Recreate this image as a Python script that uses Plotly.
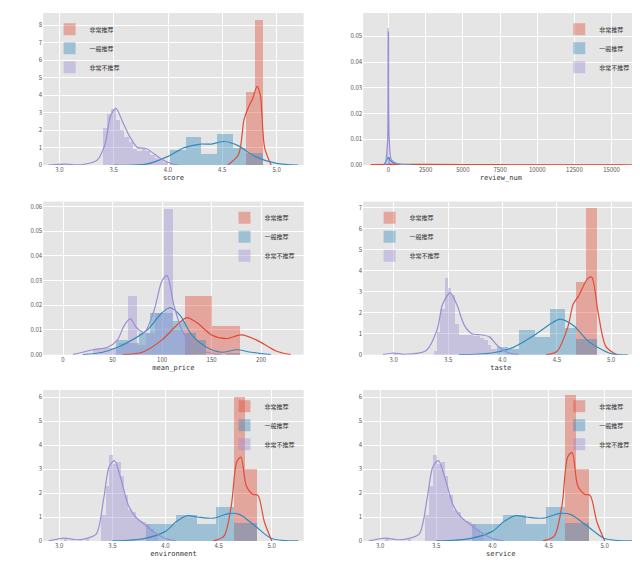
import plotly.graph_objects as go

RED, BLUE, PURPLE = "#E24A33", "#348ABD", "#988ED5"
names = ["非常推荐", "一般推荐", "非常不推荐"]

# ---- score
score_red_edges = [4.72, 4.80, 4.88]
score_red_h = [4.2, 8.3]
score_blue_edges = [4.02, 4.17, 4.31, 4.45, 4.60, 4.72, 4.88]
score_blue_h = [0.85, 1.6, 0.65, 1.8, 1.0, 0.7]
score_pur_edges = [3.00, 3.04, 3.40, 3.44, 3.48, 3.52, 3.56, 3.60, 3.64, 3.68, 3.72, 3.76, 3.80, 3.84, 3.88, 3.92, 3.96, 4.0]
score_pur_h = [0.05, 0, 2.1, 2.9, 3.2, 2.6, 2.0, 1.6, 1.3, 0.9, 0.8, 0.9, 0.8, 0.6, 0.4, 0.3, 0.2]
score_red_kx = [4.55, 4.65, 4.70, 4.74, 4.78, 4.82, 4.85, 4.89, 4.95]
score_red_ky = [0, 0.6, 2.6, 3.3, 3.8, 4.5, 4.0, 1.0, 0]
score_blue_kx = [3.5, 3.8, 4.0, 4.15, 4.3, 4.4, 4.52, 4.65, 4.8, 5.0, 5.2]
score_blue_ky = [0, 0.05, 0.5, 1.0, 1.2, 1.2, 1.35, 1.1, 0.5, 0.1, 0]
score_pur_kx = [2.9, 3.05, 3.2, 3.35, 3.42, 3.47, 3.52, 3.58, 3.65, 3.72, 3.8, 3.88, 3.95, 4.05, 4.1]
score_pur_ky = [0, 0.05, 0.02, 0.3, 1.2, 2.8, 3.25, 2.5, 1.6, 1.0, 0.95, 0.6, 0.3, 0.05, 0]

# ---- review_num
rev_red_edges = [-40, 16000]
rev_red_h = [0.0001]
rev_blue_edges = [-40, 120, 400]
rev_blue_h = [0.003, 0.0008]
rev_pur_edges = [-40, 40, 200]
rev_pur_h = [0.053, 0.002]
rev_red_kx = [-1200, 0, 5000, 10000, 16500]
rev_red_ky = [0.0002, 0.0003, 0.0002, 0.0001, 0.0001]
rev_blue_kx = [-300, 0, 100, 300, 800, 2000]
rev_blue_ky = [0, 0.003, 0.002, 0.001, 0.0003, 0]
rev_pur_kx = [-200, -50, 0, 50, 200, 600, 1500]
rev_pur_ky = [0, 0.01, 0.052, 0.01, 0.002, 0.0005, 0]

# ---- mean_price
mp_red_edges = [123, 151, 179]
mp_red_h = [0.024, 0.012]
mp_blue_edges = [54, 66, 77, 88, 100, 111, 123, 134, 145, 165, 179]
mp_blue_h = [0.006, 0.005, 0.009, 0.017, 0.017, 0.014, 0.009, 0.006, 0, 0.001]
mp_pur_edges = [30, 40, 48, 57, 66, 75, 84, 93, 102, 111, 120, 129]
mp_pur_h = [0.0025, 0.003, 0.003, 0.005, 0.024, 0.004, 0.009, 0.017, 0.059, 0.010, 0.009]
mp_red_kx = [60, 80, 100, 115, 125, 135, 150, 165, 180, 195, 215, 230]
mp_red_ky = [0, 0.001, 0.006, 0.012, 0.015, 0.013, 0.008, 0.0065, 0.008, 0.006, 0.0015, 0]
mp_blue_kx = [20, 40, 55, 70, 85, 100, 108, 118, 130, 145, 160, 175, 190, 210]
mp_blue_ky = [0, 0.001, 0.003, 0.006, 0.010, 0.017, 0.019, 0.016, 0.008, 0.003, 0.001, 0.002, 0.001, 0]
mp_pur_kx = [10, 30, 45, 55, 62, 68, 74, 82, 92, 100, 105, 112, 120, 130, 145, 160]
mp_pur_ky = [0, 0.002, 0.003, 0.006, 0.012, 0.0145, 0.011, 0.009, 0.018, 0.030, 0.032, 0.020, 0.010, 0.004, 0.001, 0]

# ---- taste
ta_red_edges = [4.68, 4.77, 4.87]
ta_red_h = [3.5, 7.0]
ta_blue_edges = [3.95, 4.05, 4.15, 4.30, 4.44, 4.58, 4.68, 4.87]
ta_blue_h = [0.4, 0.3, 1.2, 0.85, 2.2, 1.3, 0.75]
ta_pur_edges = [3.00, 3.03, 3.37, 3.40, 3.43, 3.47, 3.50, 3.53, 3.57, 3.60, 3.63, 3.67, 3.70, 3.73, 3.77, 3.80, 3.83, 3.87, 3.90, 3.95]
ta_pur_h = [0.08, 0, 0.2, 1.1, 2.2, 3.7, 3.2, 2.85, 1.5, 0.95, 0.95, 0.95, 0.95, 0.9, 0.9, 0.8, 0.7, 0.5, 0.3]
ta_red_kx = [4.4, 4.5, 4.6, 4.65, 4.7, 4.78, 4.82, 4.88, 4.95, 5.05]
ta_red_ky = [0, 0.15, 1.3, 2.4, 2.8, 3.6, 3.7, 2.0, 0.4, 0]
ta_blue_kx = [3.6, 3.9, 4.1, 4.3, 4.45, 4.53, 4.65, 4.8, 5.0, 5.15]
ta_blue_ky = [0, 0.08, 0.35, 0.95, 1.5, 1.7, 1.4, 0.6, 0.05, 0]
ta_pur_kx = [2.9, 3.0, 3.1, 3.3, 3.4, 3.45, 3.52, 3.58, 3.65, 3.72, 3.8, 3.88, 3.95, 4.05, 4.15]
ta_pur_ky = [0, 0.08, 0.02, 0.2, 1.2, 2.4, 2.95, 2.4, 1.4, 1.0, 0.95, 0.85, 0.45, 0.1, 0]

# ---- environment
en_red_edges = [4.65, 4.75, 4.86]
en_red_h = [6.0, 3.0]
en_blue_edges = [3.82, 4.10, 4.30, 4.48, 4.65, 4.86]
en_blue_h = [0.7, 1.1, 0.7, 1.4, 0.75]
en_pur_edges = [3.05, 3.08, 3.25, 3.28, 3.40, 3.44, 3.47, 3.51, 3.54, 3.58, 3.61, 3.65, 3.68, 3.72, 3.75, 3.79, 3.82, 3.86, 3.89, 3.93]
en_pur_h = [0.1, 0, 0.1, 0, 1.1, 2.3, 3.6, 3.2, 3.3, 2.7, 1.9, 1.3, 1.2, 0.9, 0.85, 0.8, 0.7, 0.5, 0.3]
en_red_kx = [4.45, 4.55, 4.62, 4.67, 4.71, 4.76, 4.82, 4.87, 4.93, 5.0]
en_red_ky = [0, 0.2, 1.5, 3.3, 3.5, 2.3, 1.95, 1.9, 0.8, 0]
en_blue_kx = [3.5, 3.8, 4.0, 4.1, 4.2, 4.3, 4.45, 4.6, 4.7, 4.85, 5.0, 5.25]
en_blue_ky = [0, 0.1, 0.4, 0.8, 1.05, 1.0, 0.95, 1.15, 1.1, 0.6, 0.1, 0]
en_pur_kx = [2.9, 3.05, 3.15, 3.25, 3.35, 3.42, 3.47, 3.52, 3.58, 3.65, 3.72, 3.8, 3.9, 4.0, 4.1]
en_pur_ky = [0, 0.12, 0.05, 0.1, 0.3, 1.8, 3.1, 3.35, 2.6, 1.5, 1.0, 0.7, 0.35, 0.1, 0]

# ---- service (looks the same as environment)
sv_red_edges = [4.65, 4.75, 4.86]
sv_red_h = [6.1, 3.0]
sv_blue_edges = [3.82, 4.10, 4.30, 4.48, 4.65, 4.86]
sv_blue_h = [0.7, 1.1, 0.7, 1.4, 0.75]
sv_pur_edges = en_pur_edges
sv_pur_h = en_pur_h
sv_red_kx, sv_red_ky = en_red_kx, [0, 0.2, 1.5, 3.5, 3.7, 2.3, 1.95, 1.9, 0.8, 0]
sv_blue_kx, sv_blue_ky = en_blue_kx, en_blue_ky
sv_pur_kx, sv_pur_ky = en_pur_kx, en_pur_ky

score_ticks = [3.0, 3.5, 4.0, 4.5, 5.0]

panels = [
    ("score", [score_red_edges, score_blue_edges, score_pur_edges], [score_red_h, score_blue_h, score_pur_h],
     [(score_red_kx, score_red_ky), (score_blue_kx, score_blue_ky), (score_pur_kx, score_pur_ky)],
     [2.85, 5.25], [0, 8.7], score_ticks, list(range(0, 9)), "left"),
    ("review_num", [rev_red_edges, rev_blue_edges, rev_pur_edges], [rev_red_h, rev_blue_h, rev_pur_h],
     [(rev_red_kx, rev_red_ky), (rev_blue_kx, rev_blue_ky), (rev_pur_kx, rev_pur_ky)],
     [-1700, 16800], [0, 0.059], [0, 2500, 5000, 7500, 10000, 12500, 15000], [0, 0.01, 0.02, 0.03, 0.04, 0.05], "right"),
    ("mean_price", [mp_red_edges, mp_blue_edges, mp_pur_edges], [mp_red_h, mp_blue_h, mp_pur_h],
     [(mp_red_kx, mp_red_ky), (mp_blue_kx, mp_blue_ky), (mp_pur_kx, mp_pur_ky)],
     [-20, 243], [0, 0.062], [0, 50, 100, 150, 200], [0, 0.01, 0.02, 0.03, 0.04, 0.05, 0.06], "right"),
    ("taste", [ta_red_edges, ta_blue_edges, ta_pur_edges], [ta_red_h, ta_blue_h, ta_pur_h],
     [(ta_red_kx, ta_red_ky), (ta_blue_kx, ta_blue_ky), (ta_pur_kx, ta_pur_ky)],
     [2.72, 5.25], [0, 7.3], score_ticks, list(range(0, 8)), "left"),
    ("environment", [en_red_edges, en_blue_edges, en_pur_edges], [en_red_h, en_blue_h, en_pur_h],
     [(en_red_kx, en_red_ky), (en_blue_kx, en_blue_ky), (en_pur_kx, en_pur_ky)],
     [2.85, 5.3], [0, 6.3], score_ticks, list(range(0, 7)), "right"),
    ("service", [sv_red_edges, sv_blue_edges, sv_pur_edges], [sv_red_h, sv_blue_h, sv_pur_h],
     [(sv_red_kx, sv_red_ky), (sv_blue_kx, sv_blue_ky), (sv_pur_kx, sv_pur_ky)],
     [2.85, 5.3], [0, 6.3], score_ticks, list(range(0, 7)), "right"),
]

xdoms = [[0.055, 0.462], [0.555, 0.985]]
ydoms = [[0.72, 0.991], [0.382, 0.655], [0.05, 0.319]]
colors = [RED, BLUE, PURPLE]

fig = go.Figure()
layout = {}
for i, (title, edges_l, h_l, kdes, xr, yr, xt, yt, lpos) in enumerate(panels):
    n = i + 1
    xa, ya = ("x" if n == 1 else f"x{n}"), ("y" if n == 1 else f"y{n}")
    leg = "legend" if n == 1 else f"legend{n}"
    for edges, hs, c, nm in zip(edges_l, h_l, colors, names):
        centers = [(a + b) / 2 for a, b in zip(edges[:-1], edges[1:])]
        widths = [b - a for a, b in zip(edges[:-1], edges[1:])]
        fig.add_trace(go.Bar(x=centers, y=hs, width=widths, marker=dict(color=c, line_width=0),
                             opacity=0.4, name=nm, xaxis=xa, yaxis=ya, legend=leg))
    for (kx, ky), c in zip(kdes, colors):
        fig.add_trace(go.Scatter(x=kx, y=ky, mode="lines",
                                 line=dict(color=c, width=1.2, shape="spline", smoothing=0.8),
                                 showlegend=False, xaxis=xa, yaxis=ya, hoverinfo="skip"))
    xd = xdoms[i % 2]
    yd = ydoms[i // 2]
    sfx = "" if n == 1 else str(n)
    if title == "review_num" or title == "mean_price":
        ttext = [str(v) for v in xt]
    else:
        ttext = [f"{v:.1f}" for v in xt]
    layout["xaxis" + sfx] = dict(domain=xd, range=xr, tickvals=xt, ticktext=ttext, anchor=ya, showgrid=True,
                                 title=dict(text=title, standoff=0,
                                            font=dict(size=7, family="DejaVu Sans Mono", color="#333")))
    yfmt = ".2f" if yr[1] < 1 else "d"
    layout["yaxis" + sfx] = dict(domain=yd, range=yr, tickvals=yt, tickformat=yfmt, anchor=xa)
    if lpos == "left":
        lx, xanc = xd[0] + 0.01, "left"
    else:
        lx, xanc = xd[1] - 0.005, "right"
    layout[leg] = dict(x=lx, y=yd[1] - 0.003, xanchor=xanc, yanchor="top", bgcolor="rgba(0,0,0,0)",
                       font=dict(size=6, family="Noto Sans CJK SC", color="#333"),
                       tracegroupgap=0, itemwidth=30)

fig.update_layout(**layout)
fig.update_xaxes(gridcolor="white", zeroline=False, tickfont=dict(size=6, color="#555"), ticks="")
fig.update_yaxes(gridcolor="white", zeroline=False, tickfont=dict(size=6, color="#555"), ticks="")
fig.update_layout(width=640, height=565, margin=dict(l=0, r=0, t=0, b=0), barmode="overlay",
                  plot_bgcolor="#E5E5E5", paper_bgcolor="white", font=dict(family="Noto Sans CJK SC"),
                  bargap=0)
fig.write_html("out.html")
